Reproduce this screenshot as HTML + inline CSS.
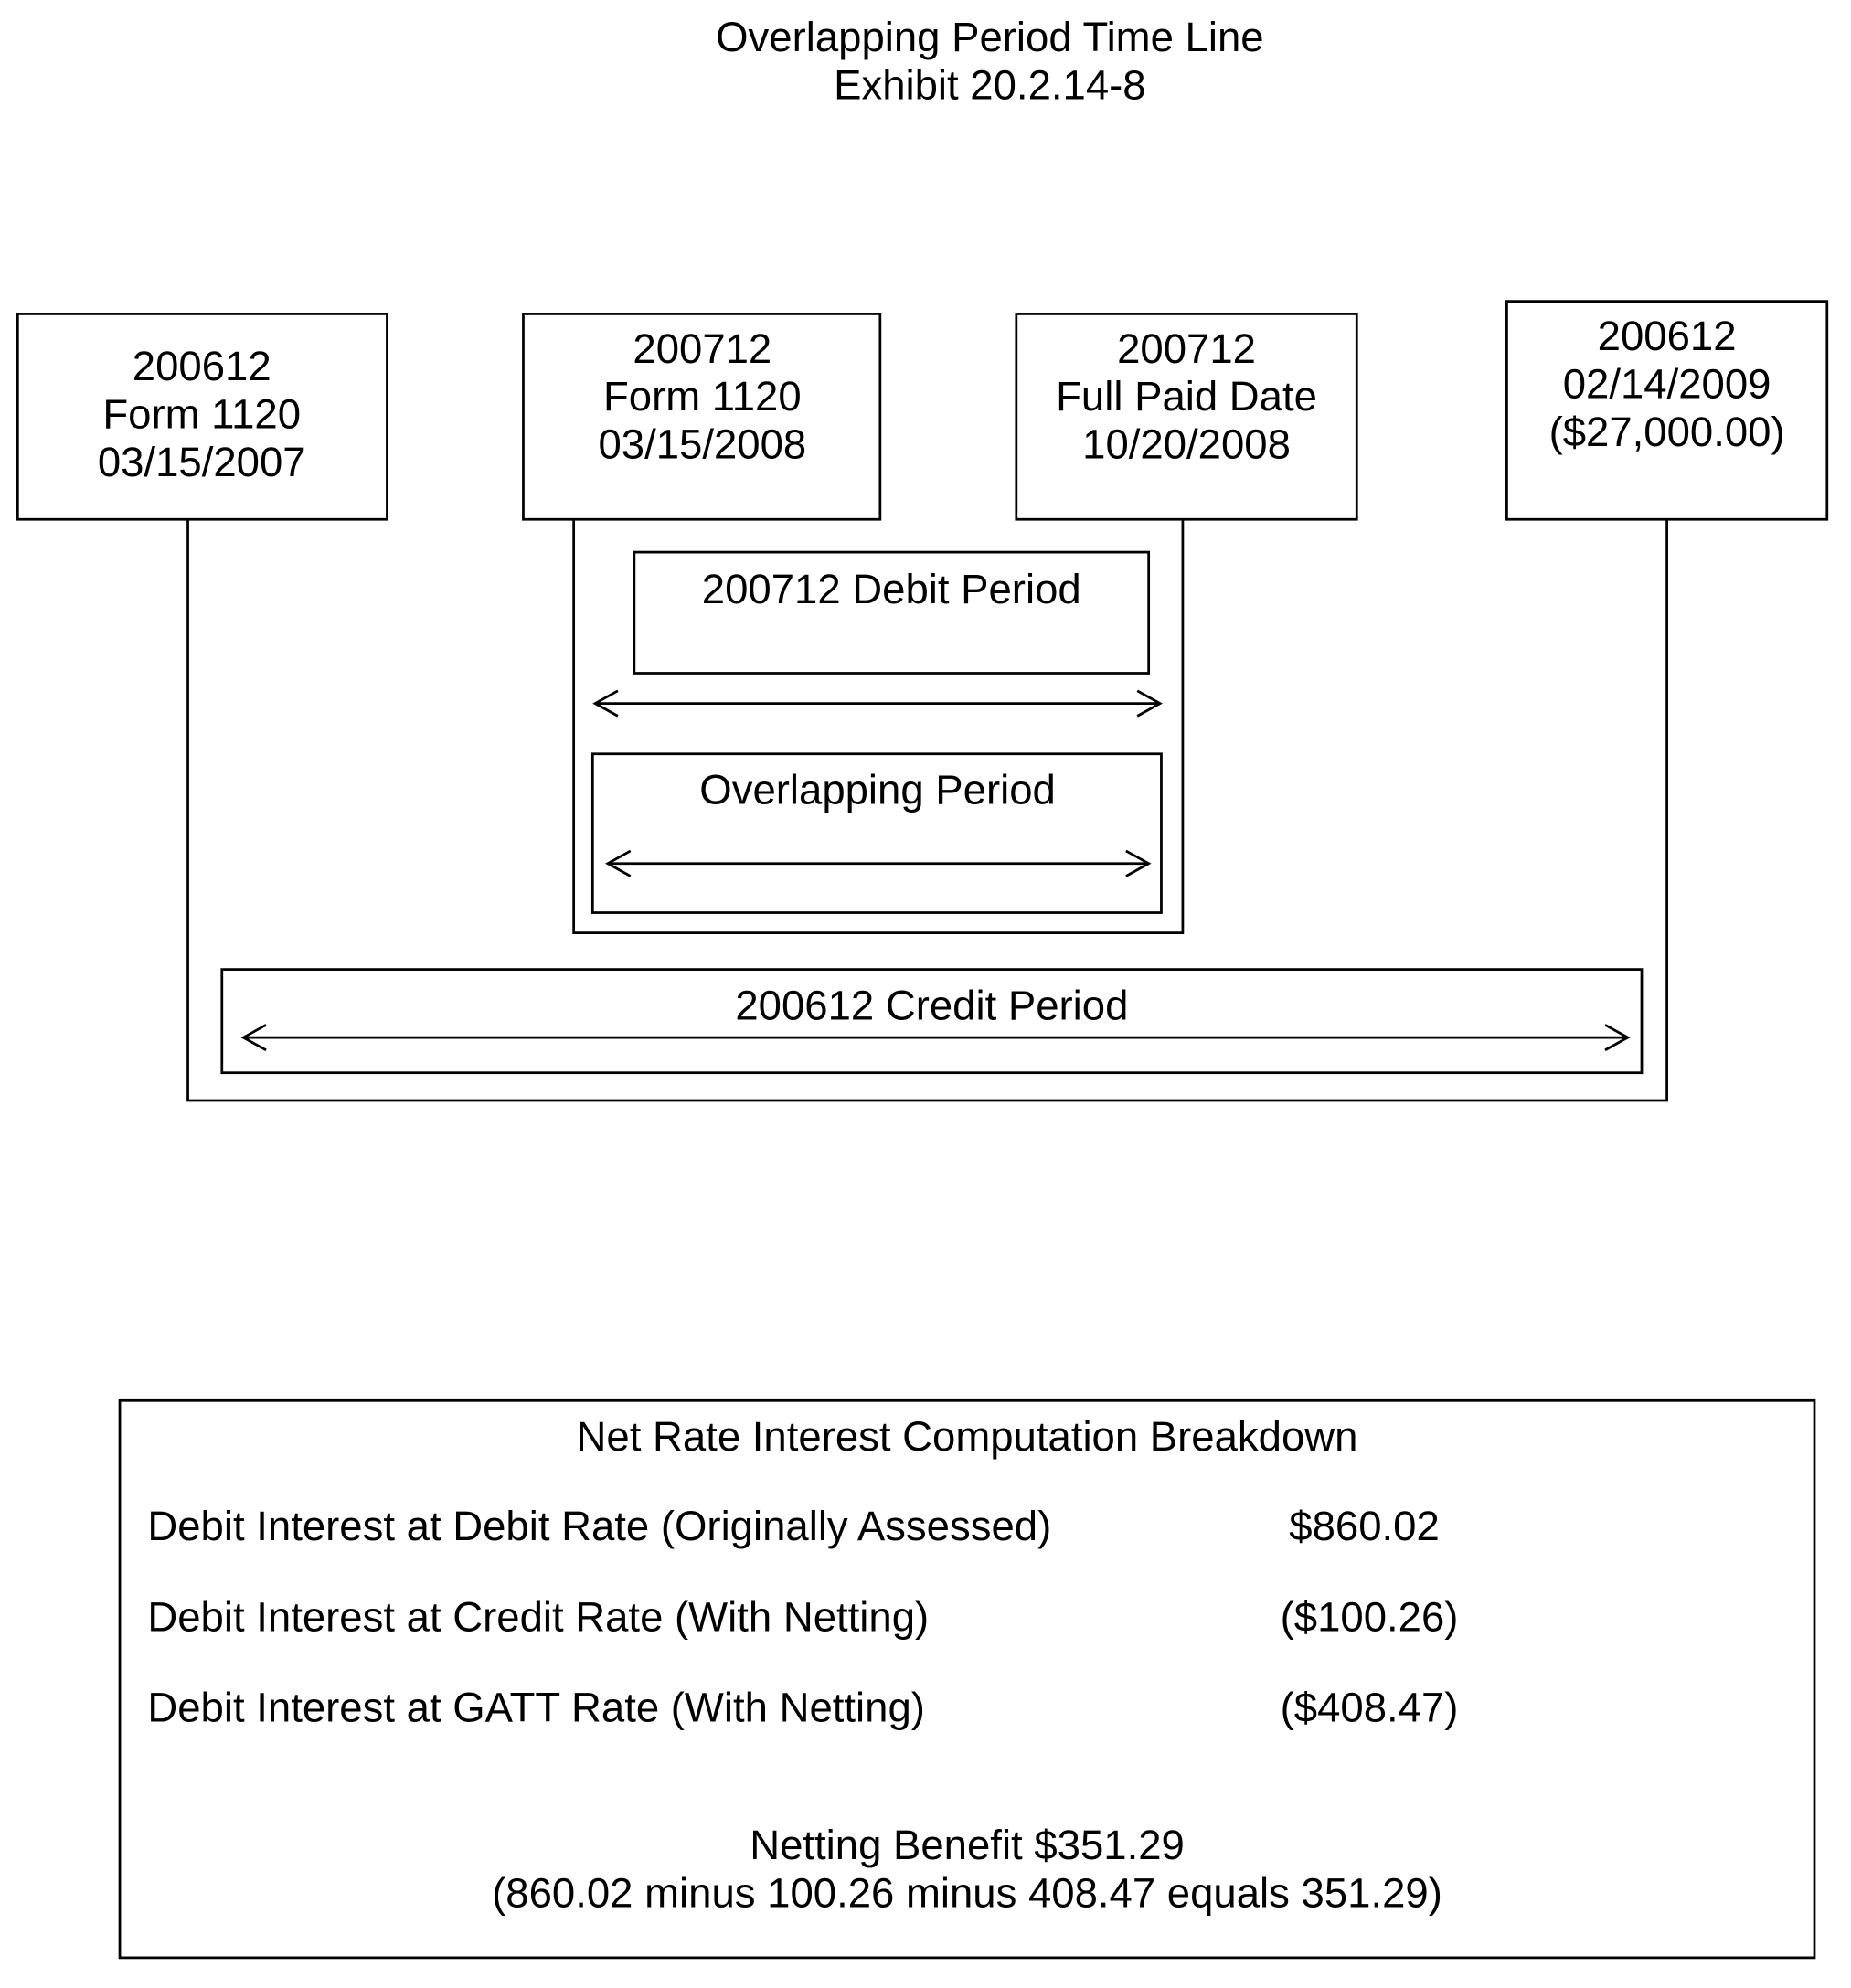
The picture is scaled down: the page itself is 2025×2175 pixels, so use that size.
<!DOCTYPE html>
<html><head><meta charset="utf-8"><style>
html,body{margin:0;padding:0;background:#fff;}
svg{display:block;}
text{font-family:"Liberation Sans",Arial,sans-serif;font-size:33px;fill:#000;dominant-baseline:middle;}
</style></head><body>
<svg width="2025" height="2175" viewBox="0 0 1468 1577" preserveAspectRatio="none" xmlns="http://www.w3.org/2000/svg">
<g fill="none" stroke="#000" stroke-width="2">
<rect x="14" y="249" width="293" height="163"/>
<rect x="415" y="249" width="283" height="163"/>
<rect x="806" y="249" width="270" height="163"/>
<rect x="1195" y="239" width="254" height="173"/>
<polyline points="149,412 149,873 1322,873 1322,412"/>
<polyline points="455,412 455,740 938,740 938,412"/>
<rect x="503" y="438" width="408" height="96"/>
<rect x="470" y="598" width="451" height="126"/>
<rect x="176" y="769" width="1126" height="82"/>
<rect x="95" y="1111" width="1344" height="442"/>
<line x1="472" y1="558" x2="920" y2="558"/>
<polyline points="490,548 472,558 490,568"/>
<polyline points="902,548 920,558 902,568"/>
<line x1="482" y1="685" x2="911" y2="685"/>
<polyline points="500,675 482,685 500,695"/>
<polyline points="893,675 911,685 893,695"/>
<line x1="193" y1="823" x2="1291" y2="823"/>
<polyline points="211,813 193,823 211,833"/>
<polyline points="1273,813 1291,823 1273,833"/>
</g>
<g text-anchor="middle">
<text x="785" y="32">Overlapping Period Time Line</text>
<text x="785" y="70">Exhibit 20.2.14-8</text>
<text x="160" y="293">200612</text>
<text x="160" y="331">Form 1120</text>
<text x="160" y="369">03/15/2007</text>
<text x="557" y="279">200712</text>
<text x="557" y="317">Form 1120</text>
<text x="557" y="355">03/15/2008</text>
<text x="941" y="279">200712</text>
<text x="941" y="317">Full Paid Date</text>
<text x="941" y="355">10/20/2008</text>
<text x="1322" y="269">200612</text>
<text x="1322" y="307">02/14/2009</text>
<text x="1322" y="345">($27,000.00)</text>
<text x="707" y="470">200712 Debit Period</text>
<text x="696" y="629">Overlapping Period</text>
<text x="739" y="800">200612 Credit Period</text>
<text x="767" y="1142">Net Rate Interest Computation Breakdown</text>
<text x="1082" y="1213">$860.02</text>
<text x="1086" y="1285">($100.26)</text>
<text x="1086" y="1357">($408.47)</text>
<text x="767" y="1466">Netting Benefit $351.29</text>
<text x="767" y="1504">(860.02 minus 100.26 minus 408.47 equals 351.29)</text>
</g>
<text x="117" y="1213">Debit Interest at Debit Rate (Originally Assessed)</text>
<text x="117" y="1285">Debit Interest at Credit Rate (With Netting)</text>
<text x="117" y="1357">Debit Interest at GATT Rate (With Netting)</text>
</svg>
</body></html>
